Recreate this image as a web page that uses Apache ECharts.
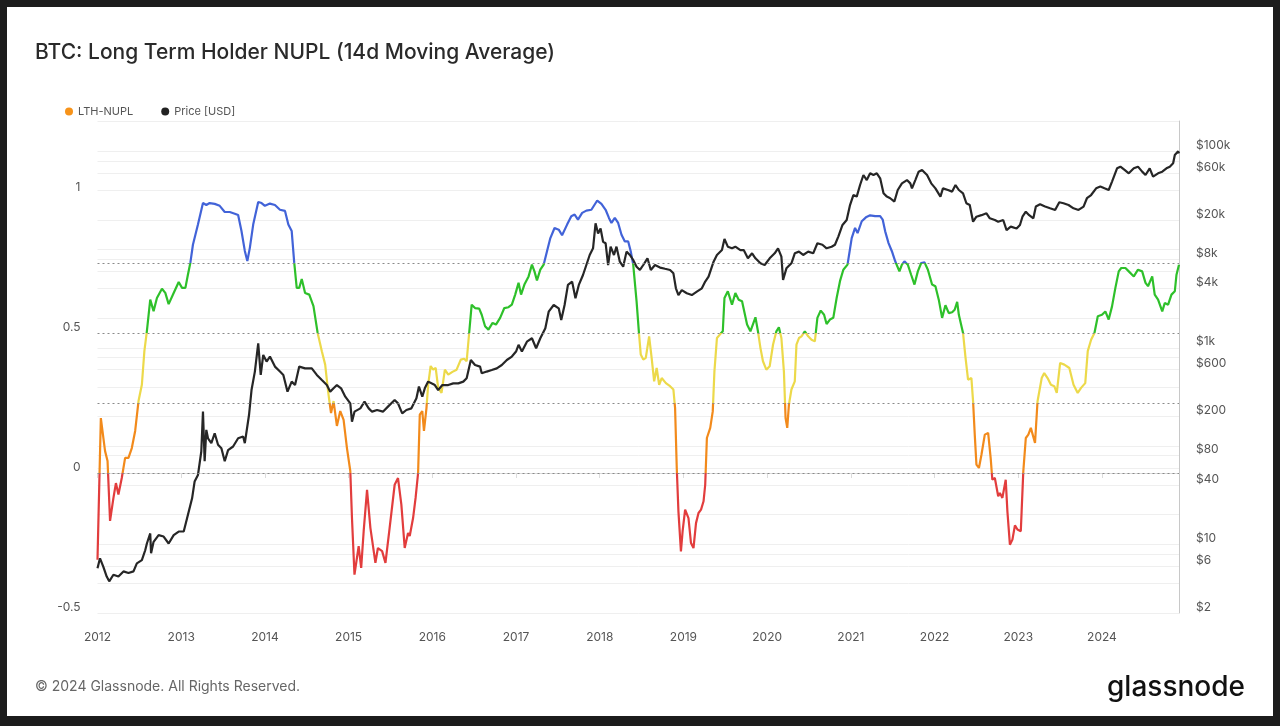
<!DOCTYPE html>
<html>
<head>
<meta charset="utf-8">
<script src="https://cdn.jsdelivr.net/npm/echarts@6/dist/echarts.min.js"></script>
<style>
html,body{margin:0;padding:0;background:#1c1c1c;width:1280px;height:726px;overflow:hidden}
#card{position:absolute;left:7px;top:7px;width:1266px;height:709px;background:#fff}
#chart{width:1266px;height:709px}
</style>
</head>
<body>
<div id="card"><div id="chart"></div></div>
<script>
// ---------- DATA ----------
const titleText = 'BTC: Long Term Holder NUPL (14d Moving Average)';
const yearTicks = [2012,2013,2014,2015,2016,2017,2018,2019,2020,2021,2022,2023,2024];
const nuplLabelValues = [-0.5, 0, 0.5, 1];
const zoneLines = [0, 0.25, 0.5, 0.75];
const priceLabelValues = [2,6,10,40,80,200,600,1000,4000,8000,20000,60000,100000];
const priceGridValues = [2,4,6,8,10,20,40,60,80,100,200,400,600,800,1000,2000,4000,6000,8000,10000,20000,40000,60000,80000,100000,203500];

// LTH-NUPL (decimal year, value)
const nuplYears = [
2012.00,2012.04,2012.09,2012.12,2012.15,2012.19,2012.22,2012.25,2012.29,2012.33,2012.37,2012.41,2012.45,2012.49,2012.53,2012.56,2012.59,2012.63,2012.67,2012.71,2012.77,2012.81,2012.85,2012.91,2012.97,
2013.01,2013.05,2013.08,2013.11,2013.14,2013.20,2013.26,2013.30,2013.34,2013.40,2013.46,2013.52,2013.58,2013.64,2013.68,2013.72,2013.76,2013.79,2013.82,2013.86,2013.92,2013.96,
2014.00,2014.06,2014.12,2014.18,2014.24,2014.28,2014.32,2014.35,2014.38,2014.41,2014.44,2014.48,2014.53,2014.58,2014.63,2014.68,2014.72,2014.75,2014.77,2014.79,2014.82,2014.86,2014.90,2014.94,2014.98,
2015.02,2015.04,2015.07,2015.12,2015.15,2015.18,2015.22,2015.26,2015.32,2015.35,2015.40,2015.44,2015.49,2015.55,2015.59,2015.63,2015.67,2015.71,2015.73,2015.77,2015.80,2015.83,2015.85,2015.88,2015.90,2015.93,2015.95,2015.98,
2016.01,2016.04,2016.07,2016.11,2016.15,2016.19,2016.24,2016.29,2016.34,2016.38,2016.41,2016.44,2016.47,2016.51,2016.56,2016.59,2016.63,2016.67,2016.72,2016.76,2016.81,2016.86,2016.91,2016.95,2016.99,
2017.03,2017.06,2017.10,2017.15,2017.19,2017.22,2017.25,2017.29,2017.33,2017.37,2017.41,2017.46,2017.51,2017.55,2017.61,2017.66,2017.70,2017.74,2017.79,2017.84,2017.90,2017.97,
2018.02,2018.07,2018.11,2018.14,2018.18,2018.22,2018.26,2018.30,2018.34,2018.37,2018.40,2018.44,2018.47,2018.49,2018.52,2018.55,2018.59,2018.62,2018.65,2018.68,2018.71,2018.74,2018.79,2018.84,2018.88,2018.90,2018.92,2018.94,2018.97,2018.99,
2019.02,2019.06,2019.09,2019.12,2019.15,2019.18,2019.21,2019.24,2019.26,2019.28,2019.32,2019.35,2019.37,2019.40,2019.44,2019.47,2019.49,2019.53,2019.58,2019.62,2019.66,2019.70,2019.76,2019.80,2019.82,2019.86,2019.89,2019.92,2019.95,2019.99,
2020.03,2020.07,2020.11,2020.14,2020.17,2020.20,2020.22,2020.24,2020.26,2020.29,2020.33,2020.35,2020.38,2020.41,2020.45,2020.49,2020.53,2020.57,2020.60,2020.64,2020.68,2020.71,2020.75,2020.79,2020.83,2020.87,2020.91,2020.96,
2021.01,2021.05,2021.08,2021.13,2021.18,2021.23,2021.29,2021.35,2021.38,2021.41,2021.45,2021.49,2021.53,2021.58,2021.61,2021.64,2021.68,2021.72,2021.76,2021.80,2021.84,2021.88,2021.92,2021.97,
2022.01,2022.05,2022.09,2022.13,2022.17,2022.21,2022.24,2022.27,2022.29,2022.34,2022.37,2022.40,2022.44,2022.46,2022.48,2022.50,2022.53,2022.56,2022.60,2022.64,2022.67,2022.69,2022.72,2022.76,2022.78,2022.81,2022.85,2022.87,2022.90,2022.93,2022.96,2022.99,
2023.03,2023.04,2023.06,2023.09,2023.12,2023.15,2023.17,2023.20,2023.23,2023.28,2023.31,2023.35,2023.39,2023.43,2023.46,2023.50,2023.55,2023.61,2023.66,2023.71,2023.75,2023.80,2023.83,2023.87,2023.91,2023.95,
2024.00,2024.04,2024.08,2024.12,2024.16,2024.20,2024.23,2024.28,2024.32,2024.38,2024.43,2024.48,2024.52,2024.55,2024.60,2024.63,2024.67,2024.72,2024.75,2024.79,2024.83,2024.87,2024.89,2024.92
];
const nuplValues = [
-0.31,0.196,0.079,0.043,-0.171,-0.09,-0.036,-0.077,-0.018,0.054,0.054,0.089,0.15,0.257,0.315,0.435,0.507,0.619,0.578,0.625,0.658,0.643,0.603,0.643,0.682,
0.661,0.661,0.708,0.752,0.815,0.887,0.964,0.957,0.964,0.961,0.954,0.932,0.932,0.926,0.921,0.864,0.793,0.757,0.804,0.887,0.968,0.964,
0.954,0.962,0.957,0.94,0.936,0.887,0.864,0.752,0.661,0.661,0.693,0.643,0.637,0.596,0.5,0.435,0.387,0.304,0.257,0.214,0.257,0.168,0.221,0.19,0.089,
0.007,-0.161,-0.363,-0.261,-0.339,-0.207,-0.06,-0.196,-0.321,-0.268,-0.279,-0.321,-0.196,-0.042,-0.018,-0.113,-0.268,-0.214,-0.225,-0.161,-0.089,0,0.208,0.221,0.15,0.232,0.315,0.382,
0.369,0.375,0.304,0.286,0.369,0.351,0.361,0.369,0.405,0.408,0.399,0.5,0.601,0.589,0.587,0.565,0.524,0.512,0.536,0.53,0.554,0.589,0.592,0.601,0.637,
0.679,0.637,0.673,0.702,0.744,0.72,0.688,0.726,0.744,0.792,0.839,0.875,0.869,0.849,0.887,0.917,0.923,0.905,0.929,0.937,0.94,0.973,
0.961,0.94,0.911,0.893,0.911,0.893,0.851,0.827,0.827,0.792,0.744,0.613,0.494,0.423,0.405,0.411,0.488,0.411,0.327,0.375,0.315,0.339,0.321,0.31,0.298,0.232,0.018,-0.137,-0.28,-0.208,
-0.131,-0.161,-0.25,-0.268,-0.179,-0.143,-0.131,-0.101,-0.042,0.125,0.161,0.22,0.363,0.482,0.496,0.506,0.625,0.649,0.601,0.643,0.619,0.613,0.53,0.506,0.506,0.556,0.506,0.446,0.399,0.369,
0.381,0.458,0.506,0.52,0.482,0.363,0.196,0.161,0.244,0.298,0.327,0.458,0.482,0.488,0.506,0.488,0.476,0.47,0.554,0.58,0.565,0.532,0.548,0.554,0.625,0.685,0.726,0.744,
0.839,0.875,0.857,0.899,0.913,0.92,0.917,0.917,0.905,0.863,0.821,0.792,0.756,0.72,0.744,0.756,0.744,0.708,0.673,0.72,0.75,0.752,0.726,0.673,
0.667,0.619,0.554,0.599,0.571,0.574,0.583,0.611,0.565,0.5,0.411,0.333,0.339,0.256,0.137,0.03,0.018,0.065,0.137,0.143,0.054,-0.024,-0.018,-0.083,-0.071,-0.089,-0.024,-0.137,-0.256,-0.238,-0.187,-0.202,
-0.208,-0.137,0.006,0.125,0.137,0.161,0.167,0.107,0.256,0.339,0.357,0.339,0.315,0.31,0.286,0.393,0.387,0.375,0.315,0.286,0.304,0.321,0.435,0.476,0.5,0.56,
0.565,0.577,0.548,0.595,0.661,0.72,0.732,0.732,0.72,0.702,0.726,0.72,0.679,0.667,0.702,0.637,0.619,0.577,0.607,0.601,0.637,0.649,0.708,0.744
];

// Price [USD] (decimal year, value)
const priceYears = [
2012.00,2012.03,2012.07,2012.11,2012.14,2012.19,2012.25,2012.31,2012.37,2012.43,2012.47,2012.53,2012.57,2012.59,2012.63,2012.64,2012.67,2012.73,2012.79,2012.85,2012.91,2012.97,
2013.03,2013.07,2013.13,2013.16,2013.20,2013.24,2013.26,2013.28,2013.30,2013.32,2013.36,2013.40,2013.44,2013.48,2013.52,2013.56,2013.62,2013.68,2013.74,2013.76,2013.81,2013.84,2013.88,2013.92,2013.95,2013.98,
2014.02,2014.06,2014.12,2014.18,2014.22,2014.27,2014.32,2014.36,2014.41,2014.48,2014.56,2014.62,2014.68,2014.74,2014.78,2014.82,2014.86,2014.91,2014.96,
2015.02,2015.04,2015.07,2015.14,2015.19,2015.24,2015.28,2015.34,2015.41,2015.47,2015.55,2015.59,2015.64,2015.69,2015.75,2015.81,2015.84,2015.88,2015.91,2015.95,2015.99,
2016.03,2016.07,2016.12,2016.19,2016.25,2016.31,2016.37,2016.41,2016.46,2016.51,2016.57,2016.59,2016.65,2016.71,2016.77,2016.83,2016.89,2016.95,2017.00,
2017.03,2017.07,2017.13,2017.19,2017.24,2017.29,2017.35,2017.39,2017.45,2017.51,2017.54,2017.58,2017.62,2017.67,2017.71,2017.75,2017.80,2017.84,2017.88,2017.92,2017.95,2017.98,
2018.01,2018.04,2018.07,2018.10,2018.13,2018.17,2018.20,2018.24,2018.28,2018.32,2018.36,2018.40,2018.44,2018.48,2018.52,2018.57,2018.61,2018.66,2018.72,2018.78,2018.84,2018.88,2018.91,2018.94,2018.98,
2019.04,2019.10,2019.16,2019.22,2019.26,2019.30,2019.36,2019.40,2019.46,2019.49,2019.53,2019.58,2019.62,2019.68,2019.72,2019.77,2019.82,2019.86,2019.92,2019.97,
2020.03,2020.09,2020.13,2020.17,2020.19,2020.23,2020.29,2020.33,2020.38,2020.43,2020.49,2020.55,2020.60,2020.66,2020.71,2020.77,2020.81,2020.85,2020.90,2020.95,2020.99,
2021.03,2021.07,2021.11,2021.15,2021.19,2021.23,2021.27,2021.31,2021.35,2021.39,2021.43,2021.47,2021.52,2021.56,2021.61,2021.67,2021.71,2021.73,2021.77,2021.81,2021.85,2021.91,2021.96,
2022.01,2022.07,2022.10,2022.16,2022.21,2022.25,2022.29,2022.34,2022.38,2022.42,2022.46,2022.50,2022.56,2022.62,2022.66,2022.72,2022.76,2022.82,2022.86,2022.91,2022.98,
2023.02,2023.05,2023.09,2023.13,2023.18,2023.21,2023.26,2023.32,2023.38,2023.44,2023.49,2023.54,2023.60,2023.66,2023.72,2023.78,2023.82,2023.87,2023.93,2023.98,
2024.03,2024.08,2024.12,2024.18,2024.22,2024.27,2024.32,2024.38,2024.43,2024.48,2024.52,2024.57,2024.61,2024.67,2024.72,2024.77,2024.81,2024.85,2024.87,2024.91,2024.92
];
const priceValues = [
5.7,7.2,5.9,4.7,4.2,4.9,4.7,5.3,5.1,5.3,6.4,6.9,8.7,10.2,12.9,8.1,10.6,12.4,12,10.2,12.4,13.5,
13.5,18.4,29.4,43.5,50.7,88,224,70,146,120,107,135,103,95,70,91,99,120,125,107,207,372,573,1112,530,845,
724,815,644,573,530,358,453,418,644,618,618,530,470,418,358,387,418,387,318,
272,177,224,242,283,242,224,233,224,252,294,272,215,233,242,306,403,318,387,453,435,
418,372,418,418,435,435,453,490,752,668,644,550,573,594,618,668,752,815,916,
1072,916,1156,1251,989,1251,1579,2333,2730,2524,1918,2730,4365,4720,3192,4365,5510,6965,8810,10300,18500,14600,
16400,12000,11600,6965,10700,8810,10700,7530,6700,9530,8810,7830,6700,6200,6965,8150,6200,6965,6560,6375,6200,5730,4035,3445,3870,
3590,3445,3730,4035,4720,5310,7530,8810,9890,12800,10700,10300,10700,9890,9890,8150,9160,8150,7250,6965,
8150,9160,10300,8470,4900,6440,7250,9160,9530,8810,9530,9160,11600,11200,10300,10700,11200,13550,17800,20000,28400,
35900,34600,45400,57400,51000,59700,57400,59700,53100,37400,34600,33300,30800,40400,47200,51000,47200,42000,51000,62100,64600,57400,47200,
42000,34600,42000,40400,38900,45400,40400,37400,29600,28400,19200,21600,22400,23400,20800,20000,19200,20000,15800,17100,16400,
17800,21600,24300,22400,20800,27400,28900,27400,26300,25300,30300,29600,28400,26300,25300,27400,33300,35900,42000,43800,
42000,40400,49200,67100,69800,64600,59700,67100,69800,62100,57400,67100,55200,59700,62100,67100,69800,75500,91700,100000,95400
];

// ---------- CHART ----------
const FONT = 'Inter, "Noto Sans", sans-serif';
const nuplData = nuplYears.map((y, i) => [y, nuplValues[i]]);
const priceData = priceYears.map((y, i) => [y, priceValues[i]]);

function fmtPrice(v) {
  v = Math.round(v);
  return v >= 1000 ? '$' + Math.round(v / 1000) + 'k' : '$' + v;
}

const chart = echarts.init(document.getElementById('chart'));
chart.setOption({
  backgroundColor: '#ffffff',
  animation: false,
  textStyle: { fontFamily: FONT },
  title: {
    text: titleText, left: 28, top: 33, padding: 0,
    textStyle: { fontFamily: FONT, fontSize: 21, fontWeight: 500, color: '#2a2a2a', lineHeight: 25 }
  },
  legend: {
    left: 53, top: 94, itemWidth: 8, itemHeight: 8, itemGap: 28, icon: 'circle',
    textStyle: { fontFamily: FONT, fontSize: 11, color: '#555' },
    data: [
      { name: 'LTH-NUPL', itemStyle: { color: '#f7931a' } },
      { name: 'Price [USD]', itemStyle: { color: '#222222' } }
    ]
  },
  grid: { left: 90.5, right: 94, top: 114, bottom: 103, containLabel: false, outerBoundsMode: 'none' },
  xAxis: {
    type: 'value', min: 2012, max: 2024.92,
    axisLine: { show: true, lineStyle: { color: '#dcdcdc' } },
    axisTick: { show: true, length: 5, lineStyle: { color: '#dcdcdc' }, customValues: yearTicks },
    axisLabel: { customValues: yearTicks, formatter: v => String(Math.round(v)), color: '#555', fontSize: 12, margin: 18, fontFamily: FONT },
    splitLine: { show: false }
  },
  yAxis: [
    {
      type: 'value', min: -0.5, max: 1.257, position: 'left',
      axisLine: { show: false }, axisTick: { show: false }, splitLine: { show: false },
      axisLabel: { customValues: nuplLabelValues, formatter: v => String(Math.round(v * 10) / 10), color: '#555', fontSize: 12, margin: 17, verticalAlign: 'bottom', fontFamily: FONT }
    },
    {
      type: 'log', logBase: 10, min: 2, max: 203500, position: 'right',
      axisLine: { show: true, lineStyle: { color: '#c8c8c8' } },
      axisTick: { show: false, customValues: priceGridValues },
      splitLine: { show: true, lineStyle: { color: '#efefef', width: 1 } },
      axisLabel: { customValues: priceLabelValues, formatter: fmtPrice, color: '#555', fontSize: 12, margin: 17, verticalAlign: 'bottom', fontFamily: FONT }
    }
  ],
  visualMap: {
    show: false, type: 'piecewise', seriesIndex: 0, dimension: 1,
    pieces: [
      { lt: 0, color: '#e23d3d' },
      { gte: 0, lt: 0.25, color: '#f28a1b' },
      { gte: 0.25, lt: 0.5, color: '#ecd94a' },
      { gte: 0.5, lt: 0.75, color: '#2ec02a' },
      { gte: 0.75, color: '#4263d8' }
    ]
  },
  series: [
    {
      name: 'LTH-NUPL', type: 'line', yAxisIndex: 0, data: nuplData,
      showSymbol: false, symbol: 'none', lineStyle: { width: 2.2 }, color: '#f7931a', z: 3,
      markLine: {
        silent: true, symbol: ['none', 'none'], label: { show: false },
        lineStyle: { type: [2, 3], color: '#8a8a8a', width: 1 },
        emphasis: { disabled: true },
        data: zoneLines.map(v => ({ yAxis: v }))
      }
    },
    {
      name: 'Price [USD]', type: 'line', yAxisIndex: 1, data: priceData,
      showSymbol: false, symbol: 'none', lineStyle: { width: 2.2, color: '#262626' }, color: '#262626', z: 4
    }
  ],
  graphic: [
    { type: 'text', left: 28, top: 673, style: { text: '© 2024 Glassnode. All Rights Reserved.', fill: '#666', font: '14px ' + FONT } },
    { type: 'text', right: 28, top: 667, style: { text: 'glassnode', fill: '#111', font: '500 28px ' + FONT } }
  ]
});
</script>
</body>
</html>
